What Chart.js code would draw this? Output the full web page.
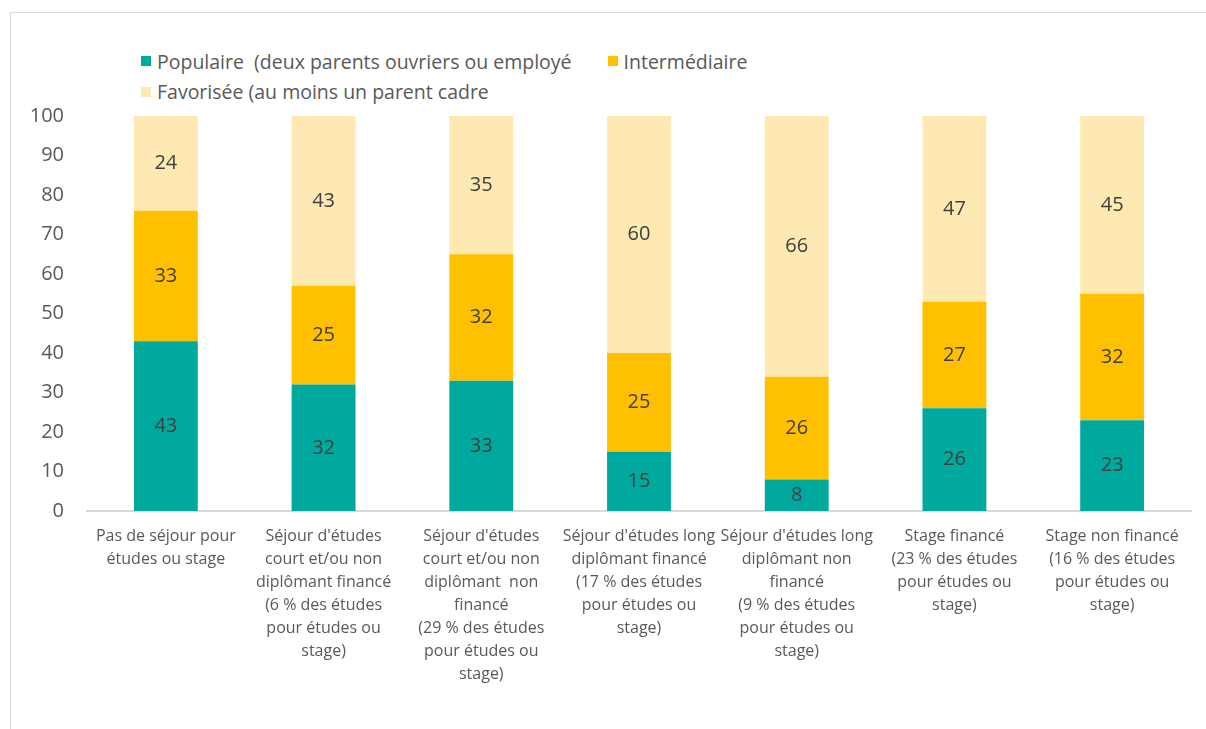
<!DOCTYPE html>
<html lang="fr">
<head>
<meta charset="utf-8">
<script src="https://cdn.jsdelivr.net/npm/chart.js@4/dist/chart.umd.min.js"></script>
<style>
  html, body { margin: 0; padding: 0; background: #fff; }
  #wrap { position: relative; width: 1206px; height: 729px; overflow: hidden; }
  #frame {
    position: absolute; left: 10px; top: 12px; width: 1300px; height: 800px;
    border-left: 1px solid #d9d9d9; border-top: 1px solid #d9d9d9;
  }
  #legende {
    position: absolute; left: 141px; top: 45px; width: 650px;
    font-family: "Open Sans", sans-serif; font-size: 19.5px; color: #595959;
  }
  #legende .item { display: inline-flex; align-items: center; height: 29px; margin-right: 36px; white-space: pre; }
  #legende .box { width: 10px; height: 10px; margin-right: 6px; }
  canvas { position: absolute; left: 0; top: 0; }
</style>
</head>
<body>
<div id="wrap">
  <div id="frame"></div>
  <div id="legende"></div>
  <canvas id="graph" width="1206" height="729"></canvas>
</div>
<script>
const categories = [
  ["Pas de séjour pour", "études ou stage"],
  ["Séjour d'études", "court et/ou non", "diplômant financé", "(6 % des études", "pour études ou", "stage)"],
  ["Séjour d'études", "court et/ou non", "diplômant  non", "financé", "(29 % des études", "pour études ou", "stage)"],
  ["Séjour d'études long", "diplômant financé", "(17 % des études", "pour études ou", "stage)"],
  ["Séjour d'études long", "diplômant non", "financé", "(9 % des études", "pour études ou", "stage)"],
  ["Stage financé", "(23 % des études", "pour études ou", "stage)"],
  ["Stage non financé", "(16 % des études", "pour études ou", "stage)"]
];
const populaire = [43, 32, 33, 15, 8, 26, 23];
const intermediaire = [33, 25, 32, 25, 26, 27, 32];
const favorisee = [24, 43, 35, 60, 66, 47, 45];
const yTicks = [0, 10, 20, 30, 40, 50, 60, 70, 80, 90, 100];

const series = [
  { label: "Populaire  (deux parents ouvriers ou employé", data: populaire, color: "#00a99d" },
  { label: "Intermédiaire", data: intermediaire, color: "#ffc000" },
  { label: "Favorisée (au moins un parent cadre", data: favorisee, color: "#ffe9b3" }
];

// legende en HTML (deux items sur la premiere ligne, un sur la seconde)
const legende = document.getElementById('legende');
series.forEach(s => {
  const item = document.createElement('span');
  item.className = 'item';
  item.innerHTML = '<span class="box" style="background:' + s.color + '"></span>' + s.label;
  legende.appendChild(item);
});

// valeurs au centre de chaque segment
const etiquettes = {
  id: 'etiquettes',
  afterDatasetsDraw(chart) {
    const ctx = chart.ctx;
    ctx.save();
    ctx.font = '20px "Open Sans", sans-serif';
    ctx.fillStyle = '#404040';
    ctx.textAlign = 'center';
    ctx.textBaseline = 'middle';
    chart.data.datasets.forEach((ds, i) => {
      chart.getDatasetMeta(i).data.forEach((bar, j) => {
        ctx.fillText(String(ds.data[j]), bar.x, (bar.y + bar.base) / 2);
      });
    });
    ctx.restore();
  }
};

new Chart(document.getElementById('graph'), {
  type: 'bar',
  data: {
    labels: categories,
    datasets: series.map(s => ({
      label: s.label,
      data: s.data,
      backgroundColor: s.color,
      borderWidth: 0,
      barPercentage: 0.405,
      categoryPercentage: 1
    }))
  },
  options: {
    responsive: false,
    animation: false,
    layout: { padding: { top: 116, right: 15, left: 0, bottom: 0 } },
    plugins: {
      legend: { display: false },
      tooltip: { enabled: false }
    },
    scales: {
      x: {
        stacked: true,
        grid: { display: false, drawTicks: false },
        border: { display: true, color: '#d9d9d9', width: 2 },
        ticks: {
          autoSkip: false, maxRotation: 0, minRotation: 0, padding: 14,
          color: '#595959',
          font: { family: '"Open Sans", sans-serif', size: 16, lineHeight: 23 / 16 }
        },
        afterFit(scale) { scale.height = 218; }
      },
      y: {
        stacked: true,
        min: 0, max: 100,
        afterBuildTicks(scale) { scale.ticks = yTicks.map(v => ({ value: v })); },
        grid: { display: false, drawTicks: false },
        border: { display: false },
        ticks: {
          padding: 23, color: '#595959',
          font: { family: '"Open Sans", sans-serif', size: 20 }
        },
        afterFit(scale) { scale.width = 87; }
      }
    }
  },
  plugins: [etiquettes]
});
</script>
</body>
</html>
